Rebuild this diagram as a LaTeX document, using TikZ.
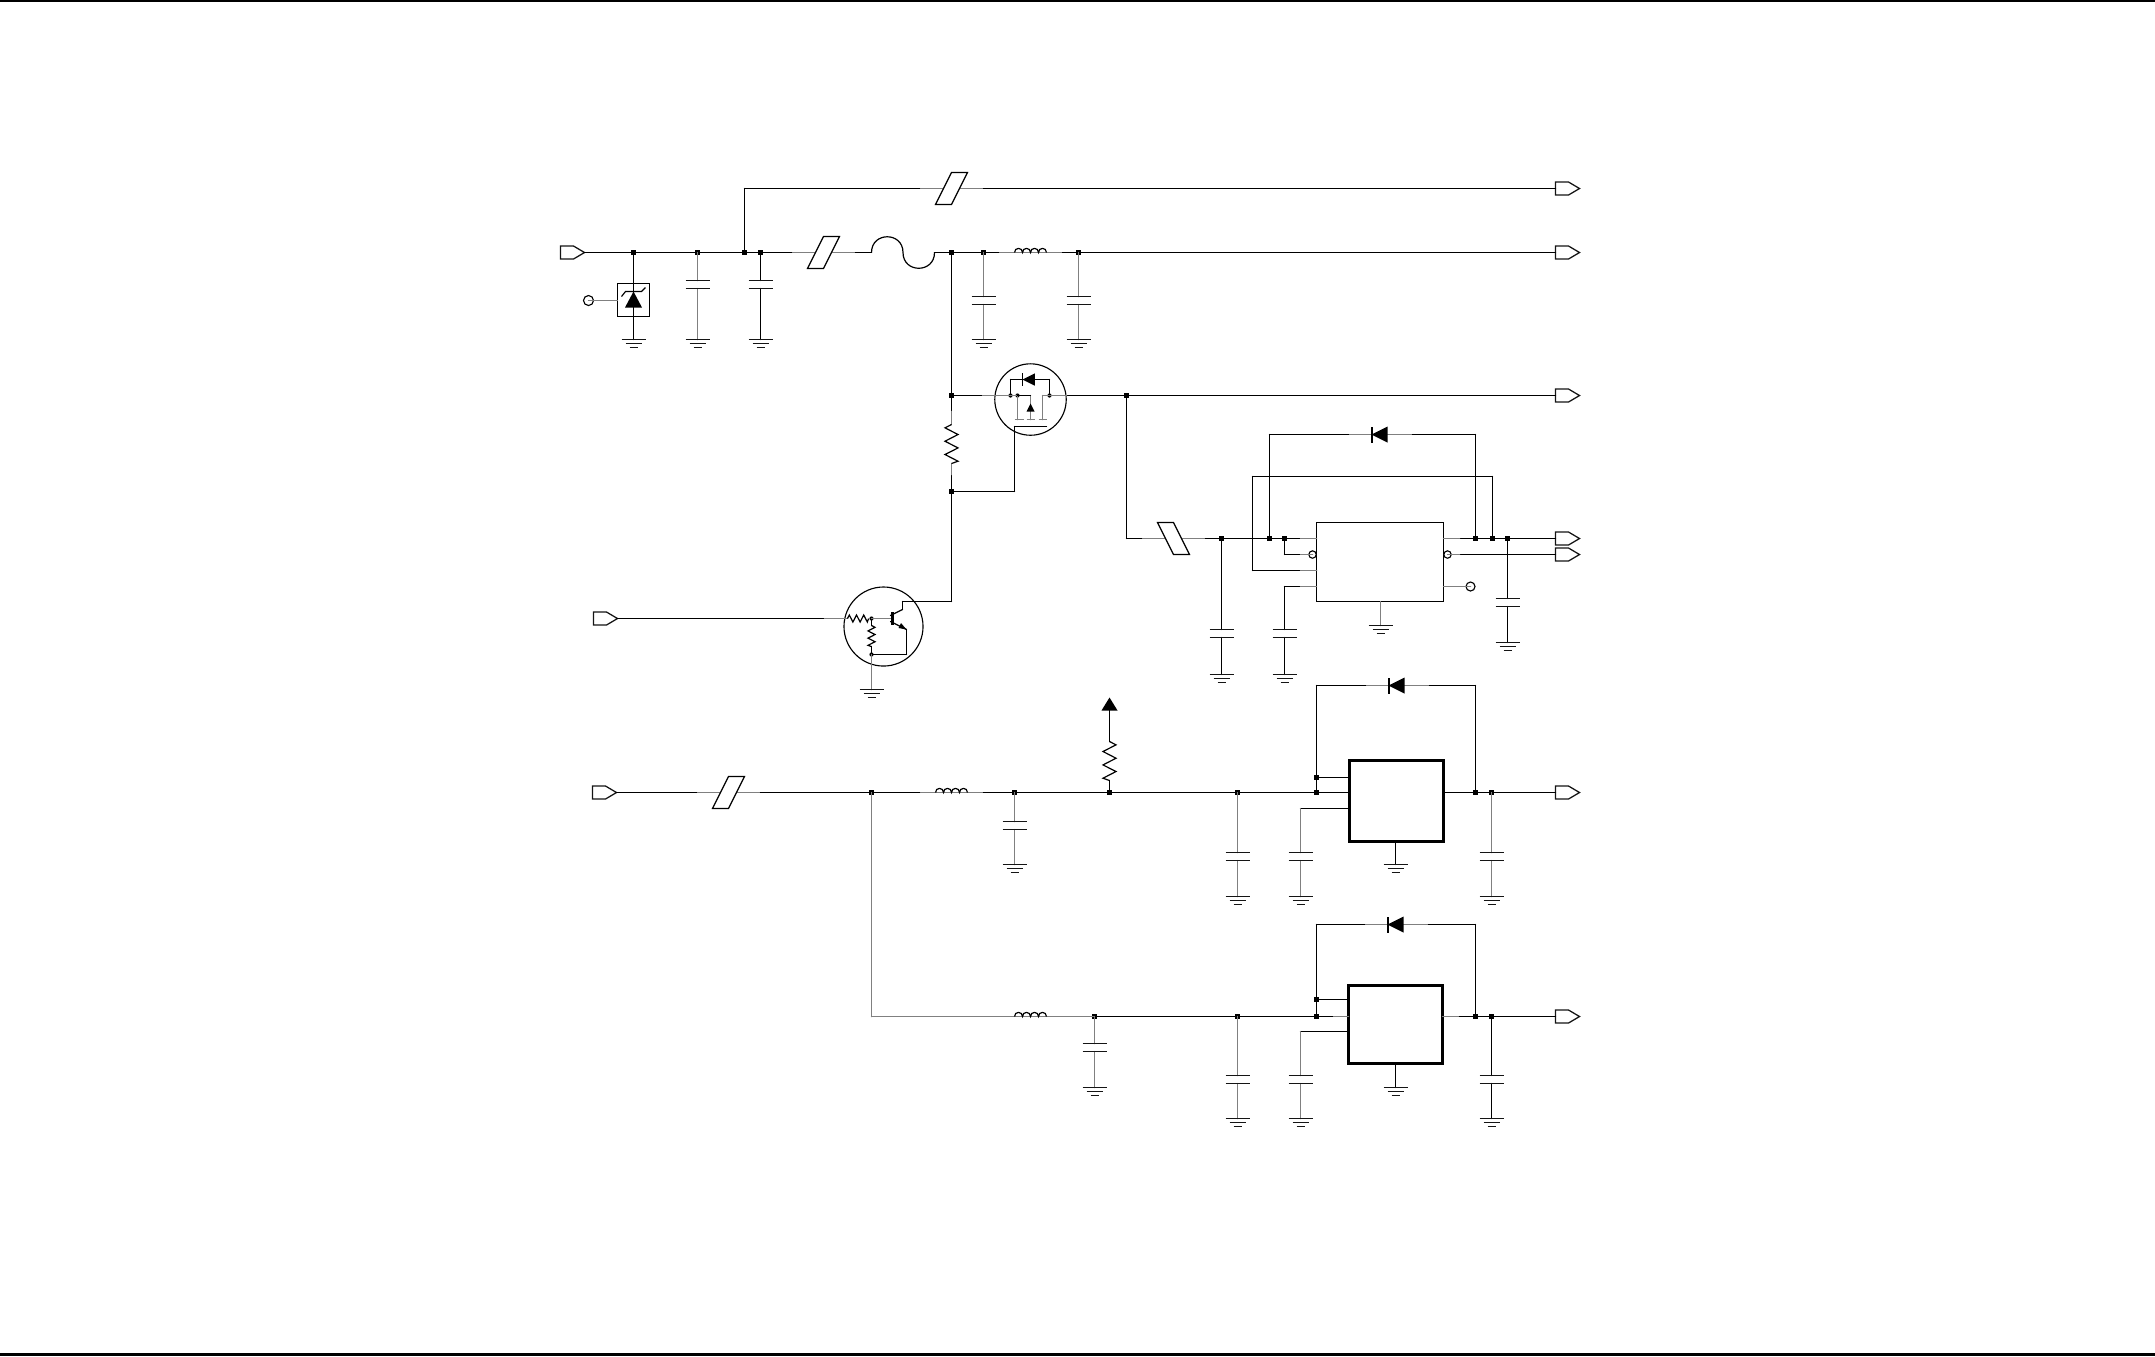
\documentclass[tikz,border=0pt]{standalone}
\usepackage{pgf,tikz}
\usepackage{tkz-euclide}
\usepackage{xcolor}
\usetikzlibrary{arrows, calc}

\definecolor{leadgray}{gray}{0.5}
\tikzset{
	wire/.style={line width=0.34pt,color=black},
	lead/.style={line width=0.42pt,color=leadgray},
	plate/.style={line width=0.36pt,color=black!92},
	dotj/.style={rectangle,fill=black,inner sep=0pt,minimum size=0.045cm},
	dotm/.style={circle,fill=black,inner sep=0pt,minimum size=0.042cm},
	bubble/.style={circle,draw,line width=0.32pt,inner sep=0pt,fill=white},
	chip/.style={rectangle,draw,line width=0.36pt,inner sep=0pt},
	chipb/.style={chip,line width=0.78pt},
	gnd/.pic={\draw[plate] (-12,0) -- (12,0) (-8,4) -- (8,4) (-4,8) -- (4,8);},
	porto/.pic={\draw[plate] (0,-6.5) -- (13,-6.5) -- (24,0) -- (13,6.5) -- (0,6.5) -- cycle;},
	ribbon/.pic={\draw[wire,fill=white] (-16,16) -- (0,16) -- (16,-16) -- (0,-16) -- cycle;},
	diode/.pic={\fill (-1,-8) rectangle (1,8); \fill (0,0) -- (16,-8) -- (16,8) -- cycle;},
	res/.pic={\draw[wire] (0,0) -- (6.5,3.3) -- (-6.5,10) -- (6.5,16.7) -- (-6.5,23.4) -- (6.5,30) -- (-6.5,36.7) -- (0,39);},
	coil/.pic={\draw[wire] (-16,0) .. controls (-16,-5.5) and (-8,-5.5) .. (-8,0) .. controls (-8,-5.5) and (0,-5.5) .. (0,0) .. controls (0,-5.5) and (8,-5.5) .. (8,0) .. controls (8,-5.5) and (16,-5.5) .. (16,0);}
}

\newcommand{\CapGnd}[6][lead]{
	\tkzDefPoint(#3,#4){#2_a}
	\tkzDefPoint(#3,#5){#2_b}
	\tkzDefPoint(#3,#5+8){#2_c}
	\tkzDefPoint(#3,#6){#2_d}
	\tkzDrawSegments[#1](#2_a,#2_b #2_c,#2_d)
	\draw[plate] (#3-12,#5) -- (#3+12,#5) (#3-12,#5+8) -- (#3+12,#5+8);
	\pic at (#2_d) {gnd};
}
\newcommand{\Port}[3]{
	\tkzDefPoint(#2,#3){#1_a}
	\tkzDefPoint(#2+24,#3){#1_b}
	\pic at (#1_a) {porto};
}
\newcommand{\Ribbon}[4][1]{
	\tkzDefPoint(#3-32,#4){#2_a}
	\tkzDefPoint(#3+32,#4){#2_b}
	\tkzDrawSegments[lead](#2_a,#2_b)
	\pic[xscale=#1] at (#3,#4) {ribbon};
}
\newcommand{\Coil}[3]{
	\tkzDefPoint(#2-32,#3){#1_a}
	\tkzDefPoint(#2+32,#3){#1_b}
	\tkzDrawSegments[lead](#1_a,#1_b)
	\pic at (#2,#3) {coil};
}
\newcommand{\DiodeBar}[3]{
	\tkzDefPoint(#2-23,#3){#1_a}
	\tkzDefPoint(#2+41,#3){#1_b}
	\tkzDrawSegments[lead](#1_a,#1_b)
	\pic at (#2,#3) {diode};
}

\begin{document}
\begin{tikzpicture}[x=0.01cm,y=-0.01cm]
	\useasboundingbox (0,0) rectangle (2155,1356);
	\fill (0,0) rectangle (2155,2);
	\fill (0,1353) rectangle (2155,1356);
	\begin{scope}[shift={(-0.5,-0.5)}]

	% ports
	\Port{pa}{561}{253}
	\Port{pb}{594}{619}
	\Port{pc}{593}{793}
	\Port{oa}{1556}{189}
	\Port{ob}{1556}{253}
	\Port{oc}{1556}{396}
	\Port{od}{1556}{539}
	\Port{oe}{1556}{555}
	\Port{of}{1556}{793}
	\Port{og}{1556}{1017}

	% input rail
	\node[dotj] (j_1) at (634,253) {};
	\node[dotj] (j_2) at (698,253) {};
	\node[dotj] (j_3) at (745,253) {};
	\node[dotj] (j_4) at (761,253) {};
	\node[dotj] (j_5) at (952,253) {};
	\node[dotj] (j_6) at (984,253) {};
	\node[dotj] (j_7) at (1079,253) {};
	\tkzDefPoint(745,189){t_1}
	\Ribbon{ra}{952}{189}
	\Ribbon{rb}{824}{253}
	\Coil{la}{1031}{253}
	\tkzDefPoint(872,253){f_1}
	\tkzDefPoint(935,253){f_2}
	\draw[wire] (f_1) .. controls (872,232) and (903.5,232) .. (903.5,253) .. controls (903.5,274) and (935,274) .. (f_2);
	\tkzDrawSegments[wire](pa_b,j_1 j_1,j_2 j_2,j_3 j_3,j_4 j_4,rb_a rb_b,f_1 f_2,j_5 j_5,j_6 j_6,la_a la_b,j_7 j_7,ob_a)
	\tkzDrawSegments[wire](j_3,t_1 t_1,ra_a ra_b,oa_a)

	% clamp diode
	\tkzDefPoint(634,340){z_1}
	\tkzDefPoint(618,301){z_2}
	\node[bubble,minimum size=0.1cm] (z_3) at (589,301) {};
	\node[chip,minimum width=0.32cm,minimum height=0.33cm] (z_4) at (634,300.5) {};
	\tkzDrawSegments[wire](j_1,z_1)
	\tkzDrawSegments[lead](z_3,z_2)
	\fill (634,292) -- (642.5,308) -- (625.5,308) -- cycle;
	\draw[wire] (622,297) -- (626,292) -- (642,292) -- (646,288);
	\pic at (z_1) {gnd};

	\CapGnd{ca}{698}{253}{281}{340}
	\CapGnd[wire]{cb}{761}{253}{281}{340}
	\CapGnd{cc}{984}{253}{297}{340}
	\CapGnd{cd}{1079}{253}{297}{340}

	% p-channel switch
	\node[dotj] (j_8) at (952,396) {};
	\node[dotj] (j_9) at (952,492) {};
	\node[dotj] (j_10) at (1127,396) {};
	\node[circle,draw,line width=0.32pt,inner sep=0pt,minimum size=0.714cm] (q_1) at (1031,400) {};
	\node[dotm] (m_1) at (1011,396) {};
	\node[dotm] (m_2) at (1018,396) {};
	\node[dotm] (m_3) at (1050,396) {};
	\tkzDefPoint(983,396){m_4}
	\tkzDefPoint(1067,396){m_5}
	\tkzDefPoint(1011,380){m_6}
	\tkzDefPoint(1050,380){m_7}
	\tkzDefPoint(1018,420){m_8}
	\tkzDefPoint(1031,396){m_9}
	\tkzDefPoint(1031,420){m_10}
	\tkzDefPoint(1043,396){m_11}
	\tkzDefPoint(1043,420){m_12}
	\tkzDefPoint(1015,492){m_13}
	\tkzDefPoint(1015,427){m_14}
	\tkzDefPoint(1047,427){m_15}
	\tkzDefPoint(952,412){s_1}
	\tkzDefPoint(952,425){s_2}
	\tkzDefPoint(952,464){s_3}
	\tkzDefPoint(952,475){s_4}
	\tkzDrawSegments[wire](j_5,j_8 j_8,m_4 j_8,s_1 s_4,j_9 m_5,j_10 j_10,oc_a m_1,m_6 m_6,m_7 m_7,m_3)
	\tkzDrawSegments[wire](j_9,m_13 m_13,m_14 m_14,m_15)
	\tkzDrawSegments[lead](m_4,m_1 m_1,m_2 m_3,m_5 m_2,m_8 m_9,m_10 m_11,m_12 m_11,m_3 s_1,s_2 s_3,s_4)
	\tkzDrawSegments[wire](m_2,m_9)
	\draw[lead] (1015,420) -- (1024,420) (1027,420) -- (1035,420) (1039,420) -- (1047,420);
	\fill (1031,404) -- (1035,412) -- (1027,412) -- cycle;
	\pic[xscale=-1] at (s_2) {res};
	\pic[scale=0.77] at (1023,380) {diode};

	% transistor with bias resistors
	\node[circle,draw,line width=0.32pt,inner sep=0pt,minimum size=0.79cm] (q_2) at (884,627) {};
	\node[dotm] (t_1) at (872,619) {};
	\node[dotm] (t_2) at (872,655) {};
	\tkzDefPoint(825,619){b_1}
	\tkzDefPoint(848,619){b_2}
	\tkzDefPoint(891,619){b_3}
	\tkzDefPoint(872,626){b_4}
	\tkzDefPoint(872,647){b_5}
	\tkzDefPoint(872,690){b_6}
	\tkzDefPoint(903,610){b_7}
	\tkzDefPoint(903,602){b_8}
	\tkzDefPoint(952,602){b_9}
	\tkzDefPoint(907,630){b_10}
	\tkzDefPoint(907,655){b_11}
	\tkzDefPoint(891,616){b_12}
	\tkzDefPoint(891,622){b_13}
	\tkzDrawSegments[wire](pb_b,b_1 b_7,b_8 b_8,b_9 b_9,j_9 b_12,b_7 b_13,b_10 b_10,b_11 b_11,t_2 t_1,b_4 b_5,t_2)
	\tkzDrawSegments[lead](b_1,b_2 t_1,b_3 t_2,b_6)
	\fill (891,612.5) rectangle (894,625.5);
	\fill (907,630) -- (899,628.5) -- (901.5,623.5) -- cycle;
	\pic[scale=0.54,rotate=90] at (b_2) {res};
	\pic[scale=0.54] at (b_4) {res};
	\pic at (b_6) {gnd};

	% upper regulator
	\node[chip,minimum width=1.27cm,minimum height=0.79cm] (u_1) at (1380.5,562.5) {};
	\node[dotj] (j_11) at (1222,539) {};
	\node[dotj] (j_12) at (1270,539) {};
	\node[dotj] (j_13) at (1285,539) {};
	\node[dotj] (j_14) at (1476,539) {};
	\node[dotj] (j_15) at (1493,539) {};
	\node[dotj] (j_16) at (1508,539) {};
	\Ribbon[-1]{rc}{1174}{539}
	\DiodeBar{da}{1372}{435}
	\node[bubble,minimum size=0.074cm] (v_1) at (1313,555) {};
	\node[bubble,minimum size=0.074cm] (v_2) at (1448,555) {};
	\node[bubble,minimum size=0.09cm] (v_3) at (1471,587) {};
	\tkzDefPoint(1127,539){p_1}
	\tkzDefPoint(1301,539){p_2}
	\tkzDefPoint(1317,539){p_3}
	\tkzDefPoint(1444,539){p_4}
	\tkzDefPoint(1460,539){p_5}
	\tkzDefPoint(1270,435){p_6}
	\tkzDefPoint(1476,435){p_7}
	\tkzDefPoint(1253,477){p_8}
	\tkzDefPoint(1493,477){p_9}
	\tkzDefPoint(1253,571){p_10}
	\tkzDefPoint(1301,571){p_11}
	\tkzDefPoint(1317,571){p_12}
	\tkzDefPoint(1285,555){p_13}
	\tkzDefPoint(1301,555){p_14}
	\tkzDefPoint(1460,555){p_15}
	\tkzDefPoint(1301,587){p_16}
	\tkzDefPoint(1317,587){p_17}
	\tkzDefPoint(1285,587){p_18}
	\tkzDefPoint(1444,587){p_19}
	\tkzDefPoint(1381,626){p_20}
	\tkzDefPoint(1381,602){p_21}
	\tkzDrawSegments[wire](j_10,p_1 p_1,rc_a rc_b,j_11 j_11,j_12 j_12,j_13 j_13,p_2 p_5,j_14 j_14,j_15 j_15,j_16 j_16,od_a)
	\tkzDrawSegments[wire](j_12,p_6 p_6,da_a da_b,p_7 p_7,j_14)
	\tkzDrawSegments[wire](p_12,p_10 p_10,p_8 p_8,p_9 p_9,j_15)
	\tkzDrawSegments[wire](j_13,p_13 p_13,p_14 p_15,oe_a p_16,p_18)
	\tkzDrawSegments[lead](p_2,p_3 p_4,p_5 p_11,p_12 p_14,v_1 v_2,p_15 p_16,p_17 p_19,v_3 p_21,p_20)
	\pic at (p_20) {gnd};
	\CapGnd[wire]{ce}{1222}{539}{630}{675}
	\CapGnd[wire]{cf}{1285}{587}{630}{675}
	\CapGnd[wire]{cg}{1508}{539}{599}{643}

	% middle rail
	\Ribbon{rd}{729}{793}
	\Coil{lb}{952}{793}
	\node[dotj] (j_17) at (872,793) {};
	\node[dotj] (j_18) at (1015,793) {};
	\node[dotj] (j_19) at (1110,793) {};
	\node[dotj] (j_20) at (1238,793) {};
	\node[dotj] (j_21) at (1317,793) {};
	\node[dotj] (j_22) at (1476,793) {};
	\node[dotj] (j_23) at (1492,793) {};
	\node[dotj] (j_24) at (1317,778) {};
	\node[chipb,minimum width=0.94cm,minimum height=0.81cm] (u_2) at (1397,801.5) {};
	\DiodeBar{db}{1389}{686}
	\tkzDefPoint(1350,793){g_1}
	\tkzDefPoint(1444,793){g_2}
	\tkzDefPoint(1350,778){g_3}
	\tkzDefPoint(1350,809){g_4}
	\tkzDefPoint(1301,809){g_5}
	\tkzDefPoint(1317,686){g_6}
	\tkzDefPoint(1476,686){g_7}
	\tkzDefPoint(1396,842){g_8}
	\tkzDefPoint(1396,865){g_9}
	\tkzDefPoint(1110,781){g_10}
	\tkzDefPoint(1110,742){g_11}
	\tkzDefPoint(1110,711){g_12}
	\tkzDrawSegments[wire](pc_b,rd_a rd_b,j_17 j_17,lb_a lb_b,j_18 j_18,j_19 j_19,j_20 j_20,j_21 j_21,g_1 g_2,j_22 j_22,j_23 j_23,of_a)
	\tkzDrawSegments[wire](j_21,j_24 j_24,g_6 g_6,db_a db_b,g_7 g_7,j_22 j_24,g_3 g_4,g_5 g_8,g_9 j_19,g_10 g_11,g_12)
	\fill (1110,698) -- (1118,711) -- (1102,711) -- cycle;
	\pic at (g_11) {res};
	\pic at (g_9) {gnd};
	\CapGnd{ch}{1015}{793}{822}{865}
	\CapGnd{ci}{1238}{793}{853}{897}
	\CapGnd{cj}{1301}{809}{853}{897}
	\CapGnd{ck}{1492}{793}{853}{897}

	% lower rail
	\Coil{lc}{1031}{1017}
	\node[dotj] (j_25) at (1095,1017) {};
	\node[dotj] (j_26) at (1238,1017) {};
	\node[dotj] (j_27) at (1317,1017) {};
	\node[dotj] (j_28) at (1476,1017) {};
	\node[dotj] (j_29) at (1492,1017) {};
	\node[dotj] (j_30) at (1317,1000) {};
	\node[chipb,minimum width=0.94cm,minimum height=0.78cm] (u_3) at (1396,1025) {};
	\DiodeBar{dc}{1388}{925}
	\tkzDefPoint(872,1017){h_1}
	\tkzDefPoint(1333,1017){h_2}
	\tkzDefPoint(1349,1017){h_3}
	\tkzDefPoint(1443,1017){h_4}
	\tkzDefPoint(1460,1017){h_5}
	\tkzDefPoint(1349,1000){h_6}
	\tkzDefPoint(1349,1032){h_7}
	\tkzDefPoint(1301,1032){h_8}
	\tkzDefPoint(1317,925){h_9}
	\tkzDefPoint(1476,925){h_10}
	\tkzDefPoint(1396,1064){h_11}
	\tkzDefPoint(1396,1088){h_12}
	\tkzDrawSegments[lead](j_17,h_1 h_1,lc_a lc_b,j_25 h_2,h_3 h_4,h_5)
	\tkzDrawSegments[wire](j_25,j_26 j_26,j_27 j_27,h_2 h_5,j_28 j_28,j_29 j_29,og_a)
	\tkzDrawSegments[wire](j_27,j_30 j_30,h_9 h_9,dc_a dc_b,h_10 h_10,j_28 j_30,h_6 h_7,h_8 h_11,h_12)
	\pic at (h_12) {gnd};
	\CapGnd{cl}{1095}{1017}{1044}{1088}
	\CapGnd{cm}{1238}{1017}{1076}{1119}
	\CapGnd{cn}{1301}{1032}{1076}{1119}
	\CapGnd[wire]{co}{1492}{1017}{1076}{1119}
	\end{scope}
\end{tikzpicture}
\end{document}
